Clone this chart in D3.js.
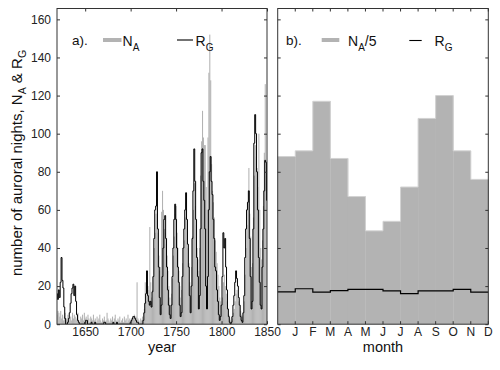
<!DOCTYPE html>
<html>
<head>
<meta charset="UTF-8">
<style>
  body { margin: 0; background: #fff; }
  svg { display: block; font-family: "Liberation Sans", Arial, Helvetica, sans-serif; }
  .tick text { font-size: 12px; fill: #222; }
  .tick line { stroke: #333; }
  .frame { fill: none; stroke: #333; stroke-width: 1px; }
</style>
</head>
<body>
<svg width="500" height="370"></svg>
<script src="https://d3js.org/d3.v7.min.js"></script>
<script>

// ---- data ----
// yearly values 1619..1850
let firstYear = 1619, lastYear = 1850;

// group sunspot number R_G (black step line, panel a)
let rgYearly = [
  16, 13, 18, 14, 22, 35, 23, 19, 9, 3,      // 1619-1628
  0, 0, 1, 3, 6, 11, 16, 19, 21, 15,         // 1629-1638
  20, 12, 5, 2, 1, 0, 0, 0, 0, 0,            // 1639-1648
  0, 1, 2, 2, 0, 0, 0, 0, 1, 0,              // 1649-1658
  0, 0, 1, 0, 0, 0, 0, 0, 0, 0,              // 1659-1668
  0, 0, 1, 1, 0, 0, 0, 0, 0, 0,              // 1669-1678
  0, 0, 1, 0, 0, 0, 1, 0, 0, 0,              // 1679-1688
  0, 0, 0, 0, 0, 0, 0, 0, 0, 0,              // 1689-1698
  0, 1, 2, 3, 4, 4, 3, 2, 1, 1,              // 1699-1708
  0, 0, 0, 0, 0, 2, 6, 11, 16, 28,           // 1709-1718
  15, 12, 10, 12, 9, 17, 25, 45, 60, 62,     // 1719-1728
  80, 50, 30, 14, 5, 10, 25, 40, 55, 57,     // 1729-1738
  45, 30, 18, 10, 5, 3, 10, 25, 40, 55,      // 1739-1748
  63, 55, 40, 30, 22, 10, 4, 6, 25, 40,      // 1749-1758
  50, 60, 69, 55, 42, 30, 15, 6, 20, 45,     // 1759-1768
  70, 92, 75, 55, 35, 25, 8, 15, 50, 90,     // 1769-1778
  92, 75, 65, 50, 20, 8, 25, 60, 80, 88,     // 1779-1788
  75, 68, 55, 45, 30, 28, 18, 12, 5, 2,      // 1789-1798
  4, 10, 25, 48, 40, 45, 30, 18, 8, 4,       // 1799-1808
  1, 0, 1, 4, 10, 15, 22, 28, 24, 20,        // 1809-1818
  14, 10, 4, 2, 1, 6, 15, 35, 50, 60,        // 1819-1828
  64, 70, 45, 25, 8, 12, 50, 95, 110, 100,   // 1829-1838
  80, 60, 35, 22, 10, 8, 30, 50, 70, 86,     // 1839-1848
  85, 65                                     // 1849-1850
];

// number of auroral nights N_A (grey bars, panel a)
let naYearly = [
  5, 7, 6, 4, 7, 3, 5, 2, 4, 6,              // 1619-1628
  3, 2, 5, 1, 3, 4, 2, 6, 3, 5,              // 1629-1638
  4, 2, 3, 6, 2, 1, 4, 3, 5, 2,              // 1639-1648
  6, 3, 4, 2, 5, 3, 1, 4, 3, 2,              // 1649-1658
  5, 2, 3, 1, 4, 2, 3, 5, 2, 1,              // 1659-1668
  3, 2, 4, 1, 2, 6, 3, 2, 1, 3,              // 1669-1678
  2, 4, 1, 3, 5, 2, 1, 3, 2, 4,              // 1679-1688
  1, 2, 3, 1, 4, 2, 3, 1, 5, 2,              // 1689-1698
  3, 1, 2, 4, 3, 5, 2, 4, 22, 3,             // 1699-1708
  2, 1, 3, 2, 4, 2, 8, 22, 12, 15,           // 1709-1718
  20, 18, 51, 22, 14, 18, 25, 40, 48, 58,    // 1719-1728
  66, 48, 36, 28, 30, 59, 70, 60, 50, 48,    // 1729-1738
  42, 36, 28, 20, 14, 10, 16, 24, 36, 46,    // 1739-1748
  58, 62, 48, 40, 28, 20, 14, 18, 32, 40,    // 1749-1758
  44, 56, 64, 50, 40, 32, 22, 14, 30, 46,    // 1759-1768
  60, 74, 62, 52, 40, 34, 28, 40, 78, 96,    // 1769-1778
  112, 98, 94, 94, 72, 60, 98, 132, 152, 128,// 1779-1788
  84, 70, 64, 56, 44, 38, 32, 26, 20, 14,    // 1789-1798
  12, 10, 14, 22, 26, 20, 16, 12, 8, 5,      // 1799-1808
  3, 2, 4, 3, 6, 8, 12, 16, 18, 14,          // 1809-1818
  12, 10, 7, 5, 4, 6, 12, 26, 40, 52,        // 1819-1828
  64, 82, 58, 46, 30, 32, 56, 78, 94, 88,    // 1829-1838
  82, 72, 100, 60, 40, 34, 44, 62, 90, 126,  // 1839-1848
  78, 58                                     // 1849-1850
];

// panel b: monthly
let months = ["J", "F", "M", "A", "M", "J", "J", "A", "S", "O", "N", "D"];
let naMonthlyFifth = [88, 91, 117, 87, 67, 49, 54, 72, 108, 120, 91, 76];
let rgMonthly = [17, 18.6, 16.8, 17.6, 18.3, 18.3, 17.5, 16, 17.5, 17.5, 18.3, 16.8];

let yearTicks = [1650, 1700, 1750, 1800, 1850];
let yTicks = [0, 20, 40, 60, 80, 100, 120, 140, 160];

let years = d3.range(firstYear, lastYear + 1);

// ---- layout ----
let svg = d3.select("svg");
let plotTop = 8.5, plotBottom = 324.2;
let aLeft = 57, aRight = 267;
let bLeft = 277.7, bRight = 488.3;
let grey = "#b3b3b3";

let y = d3.scaleLinear().domain([0, 165.7]).range([plotBottom, plotTop]);
let xA = d3.scaleLinear().domain([firstYear, lastYear]).range([aLeft, aRight]);
let xB = d3.scaleBand().domain(d3.range(12)).range([bLeft, bRight]);

svg.append("clipPath").attr("id", "clipA")
  .append("rect").attr("x", aLeft).attr("y", plotTop)
  .attr("width", aRight - aLeft).attr("height", plotBottom - plotTop);

// ---- panel a ----
let gA = svg.append("g").attr("clip-path", "url(#clipA)");

gA.selectAll("rect.na")
  .data(years)
  .enter().append("rect")
  .attr("class", "na")
  .attr("x", d => xA(d - 0.5))
  .attr("width", d => xA(d + 0.5) - xA(d - 0.5) + 0.15)
  .attr("y", (d, i) => y(naYearly[i]))
  .attr("height", (d, i) => plotBottom - y(naYearly[i]))
  .attr("fill", grey);

let stepA = d3.line()
  .x(d => xA(d))
  .y((d, i) => y(rgYearly[i]))
  .curve(d3.curveStep);

gA.append("path")
  .datum(years)
  .attr("d", stepA)
  .attr("fill", "none")
  .attr("stroke", "#000")
  .attr("stroke-width", 1);

// axes of panel a (ticks inward on all sides)
svg.append("g")
  .attr("transform", `translate(${aLeft},0)`)
  .call(d3.axisLeft(y).tickValues(yTicks).tickSize(-3).tickPadding(6))
  .call(g => g.select(".domain").remove());
svg.append("g")
  .attr("transform", `translate(${aRight},0)`)
  .call(d3.axisRight(y).tickValues(yTicks).tickSize(-3).tickFormat(""))
  .call(g => g.select(".domain").remove());
svg.append("g")
  .attr("transform", `translate(0,${plotBottom})`)
  .call(d3.axisBottom(xA).tickValues(yearTicks).tickSize(-3).tickPadding(3.5).tickFormat(d3.format("d")))
  .call(g => g.select(".domain").remove());
svg.append("g")
  .attr("transform", `translate(0,${plotTop})`)
  .call(d3.axisTop(xA).tickValues(yearTicks).tickSize(-3).tickFormat(""))
  .call(g => g.select(".domain").remove());

svg.append("rect").attr("class", "frame")
  .attr("x", aLeft).attr("y", plotTop)
  .attr("width", aRight - aLeft).attr("height", plotBottom - plotTop);

// ---- panel b ----
svg.selectAll("rect.nm")
  .data(naMonthlyFifth)
  .enter().append("rect")
  .attr("class", "nm")
  .attr("x", (d, i) => xB(i))
  .attr("width", xB.bandwidth() + 0.3)
  .attr("y", d => y(d))
  .attr("height", d => plotBottom - y(d))
  .attr("fill", grey);

// light outline along the top of the histogram
let naPts = naMonthlyFifth.map((v, i) => [xB(i), v]);
naPts.push([bRight, naMonthlyFifth[11]]);
svg.append("path")
  .datum(naPts)
  .attr("d", d3.line().x(d => d[0]).y(d => y(d[1])).curve(d3.curveStepAfter))
  .attr("fill", "none")
  .attr("stroke", "#d2d2d2")
  .attr("stroke-width", 1);

let rgPts = rgMonthly.map((v, i) => [xB(i), v]);
rgPts.push([bRight, rgMonthly[11]]);

svg.append("path")
  .datum(rgPts)
  .attr("d", d3.line().x(d => d[0]).y(d => y(d[1])).curve(d3.curveStepAfter))
  .attr("fill", "none")
  .attr("stroke", "#000")
  .attr("stroke-width", 1.2);

svg.append("g")
  .attr("transform", `translate(${bLeft},0)`)
  .call(d3.axisLeft(y).tickValues(yTicks).tickSize(-3).tickFormat(""))
  .call(g => g.select(".domain").remove());
svg.append("g")
  .attr("transform", `translate(${bRight},0)`)
  .call(d3.axisRight(y).tickValues(yTicks).tickSize(-3).tickFormat(""))
  .call(g => g.select(".domain").remove());
svg.append("g")
  .attr("transform", `translate(${xB.bandwidth() / 2},${plotBottom})`)
  .call(d3.axisBottom(xB).tickSize(-3).tickPadding(3.5).tickFormat(i => months[i]))
  .call(g => g.select(".domain").remove());
svg.append("g")
  .attr("transform", `translate(${xB.bandwidth() / 2},${plotTop})`)
  .call(d3.axisTop(xB).tickSize(-3).tickFormat(""))
  .call(g => g.select(".domain").remove());

svg.append("rect").attr("class", "frame")
  .attr("x", bLeft).attr("y", plotTop)
  .attr("width", bRight - bLeft).attr("height", plotBottom - plotTop);

// ---- labels ----
svg.append("text")
  .attr("x", (aLeft + aRight) / 2).attr("y", 352)
  .attr("text-anchor", "middle").attr("font-size", 14.5).attr("fill", "#111")
  .text("year");
svg.append("text")
  .attr("x", (bLeft + bRight) / 2).attr("y", 352)
  .attr("text-anchor", "middle").attr("font-size", 14.5).attr("fill", "#111")
  .text("month");

let ylab = svg.append("text")
  .attr("transform", "translate(22,163) rotate(-90)")
  .attr("text-anchor", "middle").attr("font-size", 15).attr("fill", "#111");
ylab.append("tspan").text("number of auroral nights, N");
ylab.append("tspan").attr("dy", 4).attr("font-size", 10.5).text("A");
ylab.append("tspan").attr("dy", -4).text(" & R");
ylab.append("tspan").attr("dy", 4).attr("font-size", 10.5).text("G");

// legends
function subLabel(x, yy, main, sub, tail) {
  let t = svg.append("text").attr("x", x).attr("y", yy)
    .attr("font-size", 14).attr("fill", "#111");
  t.append("tspan").text(main);
  t.append("tspan").attr("dy", 5).attr("font-size", 10).text(sub);
  if (tail) t.append("tspan").attr("dy", -5).text(tail);
}

svg.append("text").attr("x", 72).attr("y", 45).attr("font-size", 13.5).attr("fill", "#111").text("a).");
svg.append("line").attr("x1", 103).attr("x2", 121.5).attr("y1", 40).attr("y2", 40)
  .attr("stroke", grey).attr("stroke-width", 4);
subLabel(122.5, 45.5, "N", "A");
svg.append("line").attr("x1", 177).attr("x2", 193).attr("y1", 40).attr("y2", 40)
  .attr("stroke", "#000").attr("stroke-width", 1.1);
subLabel(195.5, 45.5, "R", "G");

svg.append("text").attr("x", 286).attr("y", 45).attr("font-size", 13.5).attr("fill", "#111").text("b).");
svg.append("line").attr("x1", 321.7).attr("x2", 339.3).attr("y1", 40).attr("y2", 40)
  .attr("stroke", grey).attr("stroke-width", 4);
subLabel(348, 45.5, "N", "A", "/5");
svg.append("line").attr("x1", 409.3).attr("x2", 421.7).attr("y1", 40.5).attr("y2", 40.5)
  .attr("stroke", "#000").attr("stroke-width", 1.1);
subLabel(434.5, 45.5, "R", "G");

</script>
</body>
</html>
